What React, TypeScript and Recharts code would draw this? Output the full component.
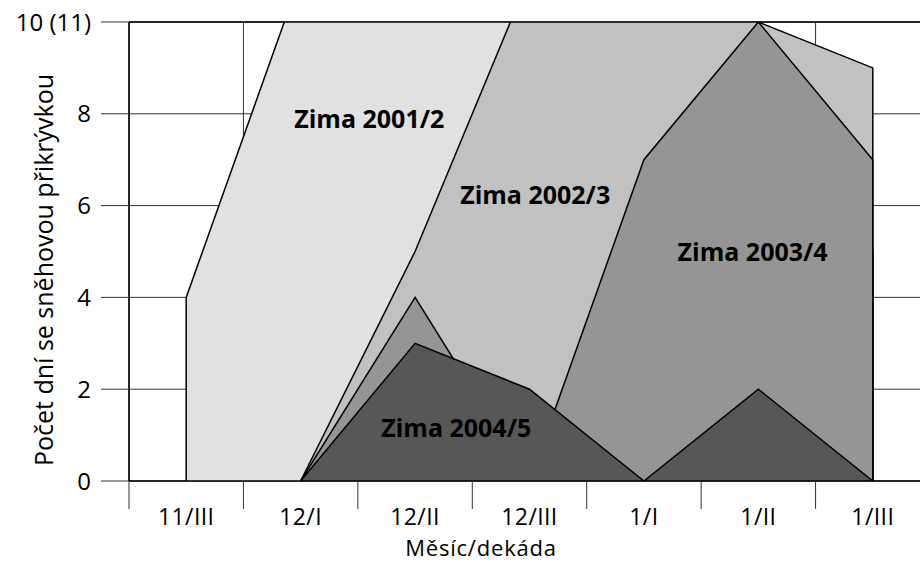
import {
	ComposedChart,
	Area,
	XAxis,
	YAxis,
	CartesianGrid,
	ReferenceLine,
	ReferenceDot,
	Label,
} from "recharts";

// decade categories along the x axis
const categories = ["11/III", "12/I", "12/II", "12/III", "1/I", "1/II", "1/III"];

// category index of each data row (a repeated index draws the vertical edge of an area)
const positions = [0, 0, 1, 2, 3, 4, 5, 6, 6];

// days with snow cover; 11 is drawn clipped at the top ("10 (11)")
const zima2001 = [0, 4, 11, 11, 11, 9, 7, 5, 0];
const zima2002 = [null, null, 0, 5, 11, 11, 10, 9, 0];
const zima2003 = [null, null, 0, 4, 0, 7, 10, 7, 0];
const zima2004 = [null, null, 0, 3, 2, 0, 2, 0, null];

const yTicks = [0, 2, 4, 6, 8, 10];
const xBoundaries = [-0.5, 0.5, 1.5, 2.5, 3.5, 4.5, 5.5, 6.5];

const seriesNames = ["Zima 2001/2", "Zima 2002/3", "Zima 2003/4", "Zima 2004/5"];
const seriesColors = ["#e1e1e1", "#c1c1c1", "#959595", "#575757"];
const labelX = [1.6, 3.05, 4.95, 2.36];
const labelY = [7.89, 6.23, 4.99, 1.15];

const data = positions.map((x, i) => ({
	x,
	z2001: zima2001[i],
	z2002: zima2002[i],
	z2003: zima2003[i],
	z2004: zima2004[i],
}));
const keys = ["z2001", "z2002", "z2003", "z2004"];

const CHART_W = 940;
const CHART_H = 563;
const MARGIN = { top: 22, right: 10, bottom: 0, left: 0 };
const Y_AXIS_W = 129;
const HALF_BAND = (CHART_W - MARGIN.left - MARGIN.right - Y_AXIS_W) / categories.length / 2;

const FONT = "'Open Sans', sans-serif";

function CategoryTick(props: any) {
	const { x, y, payload } = props;
	const i = Math.round(payload.value + 0.5);
	if (i >= categories.length) return <g />;
	return (
		<text
			x={x + HALF_BAND}
			y={y}
			dy={14}
			textAnchor="middle"
			fill="#000"
			fontSize={23}
			letterSpacing={0.4}
			fontFamily={FONT}
		>
			{categories[i]}
		</text>
	);
}

function YTitle() {
	return (
		<text
			x={43}
			y={270}
			transform="rotate(-90 43 270)"
			textAnchor="middle"
			dominantBaseline="central"
			fill="#000"
			fontSize={25}
			fontFamily={FONT}
		>
			Počet dní se sněhovou přikrývkou
		</text>
	);
}

function XTitle() {
	return (
		<text
			x={481}
			y={556}
			textAnchor="middle"
			fill="#000"
			fontSize={22}
			letterSpacing={0.8}
			fontFamily={FONT}
		>
			Měsíc/dekáda
		</text>
	);
}

export default function App() {
	return (
		<div
			style={{
				position: "fixed",
				top: 0,
				left: 0,
				width: 920,
				height: 563,
				overflow: "hidden",
				background: "#fff",
			}}
		>
			<ComposedChart width={CHART_W} height={CHART_H} data={data} margin={MARGIN}>
				<CartesianGrid stroke="#333" strokeWidth={1} />
				<XAxis
					dataKey="x"
					type="number"
					domain={[-0.5, 6.5]}
					ticks={xBoundaries}
					interval={0}
					height={82}
					tickSize={28}
					tick={<CategoryTick />}
					axisLine={{ stroke: "#000", strokeWidth: 1.5 }}
					tickLine={{ stroke: "#333" }}
				>
					<Label content={<XTitle />} />
				</XAxis>
				<YAxis
					type="number"
					domain={[0, 10]}
					allowDataOverflow
					ticks={yTicks}
					width={Y_AXIS_W}
					tickSize={28}
					tickMargin={10}
					tickFormatter={(v: number) => (v === 10 ? "10 (11)" : String(v))}
					tick={{ fill: "#000", fontSize: 24, fontFamily: FONT }}
					axisLine={{ stroke: "#000", strokeWidth: 1.5 }}
					tickLine={{ stroke: "#333" }}
				>
					<Label content={<YTitle />} />
				</YAxis>
				{keys.map((k, i) => (
					<Area
						key={k}
						type="linear"
						dataKey={k}
						name={seriesNames[i]}
						fill={seriesColors[i]}
						fillOpacity={1}
						stroke="#000"
						strokeWidth={1.5}
						dot={false}
						activeDot={false}
						isAnimationActive={false}
					/>
				))}
				<ReferenceLine y={10} stroke="#000" strokeWidth={1.5} />
				{seriesNames.map((name, i) => (
					<ReferenceDot
						key={name}
						x={labelX[i]}
						y={labelY[i]}
						r={0}
						fill="none"
						stroke="none"
						label={{
							value: name,
							position: "center",
							fill: "#000",
							fontSize: 25,
							fontWeight: 700,
							fontFamily: FONT,
						}}
					/>
				))}
			</ComposedChart>
		</div>
	);
}
